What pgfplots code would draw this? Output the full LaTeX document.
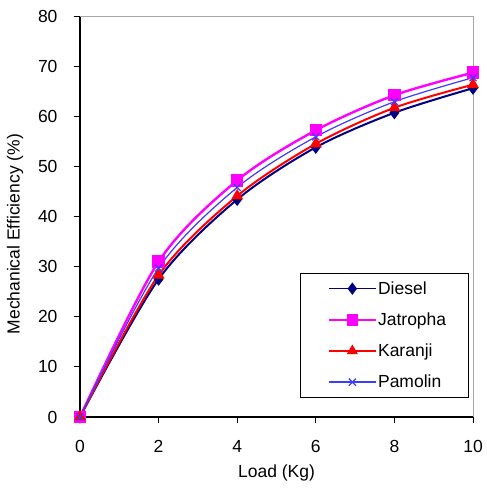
\documentclass[border=0pt]{standalone}
\usepackage{pgfplots}
\pgfplotsset{compat=1.18}
\usepackage{fontspec}
\setmainfont{Liberation Sans}
\definecolor{dieselc}{RGB}{0,0,128}
\definecolor{jatc}{RGB}{255,0,255}
\definecolor{karc}{RGB}{255,0,0}
\definecolor{pamc}{RGB}{60,60,255}
\begin{document}
\begin{tikzpicture}
\begin{axis}[
  scale only axis,
  width=393pt, height=401pt,
  xmin=0, xmax=10, ymin=0, ymax=80,
  xtick={0,2,...,10}, ytick={0,10,...,80},
  axis x line*=bottom, axis y line*=left,
  axis line style={black, line width=1.2pt},
  tick style={black, line width=1pt},
  tick align=outside, major tick length=6pt,
  /pgf/number format/assume math mode=true,
  tick label style={font=\fontsize{17.5}{19}\selectfont},
  xticklabel style={yshift=-14pt},
  yticklabel style={xshift=-13pt},
  xlabel={Load (Kg)}, ylabel={Mechanical Efficiency (\%)},
  label style={font=\fontsize{17.5}{19}\selectfont},
  xlabel style={at={(axis description cs:0.5,-0.14)}, anchor=center},
  ylabel style={at={(axis description cs:-0.165,0.456)}, anchor=center},
  legend style={at={(0.56,0.359)}, anchor=north west, draw=black, line width=1pt,
    font=\fontsize{17.5}{19}\selectfont, inner xsep=8pt, inner ysep=6pt, row sep=13pt,
    legend cell align=left, text width=80pt},
  legend image post style={line width=1.5pt},
  legend image code/.code={\path (0pt,0pt); \draw[mark repeat=2,mark phase=2] plot coordinates {(20pt,0pt) (43pt,0pt) (66pt,0pt)};},
  clip=false,
]
\path (rel axis cs:0,0) ++(-80pt,-71pt) coordinate (bl);
\path (rel axis cs:1,1) ++(13pt,16pt) coordinate (tr);
\path (bl) rectangle (tr);
\draw[gray!70, line width=0.8pt] (rel axis cs:0,1) -- (rel axis cs:1,1) -- (rel axis cs:1,0);
\addplot[smooth, color=dieselc, line width=2pt, mark=diamond*, mark size=5pt, mark options={solid, fill=dieselc}]
 coordinates {(0,0) (2,27.5) (4,43.4) (6,53.8) (8,60.7) (10,65.6)};
\addlegendentry{Diesel}
\addplot[smooth, color=jatc, line width=2.4pt, mark=square*, mark size=5pt, mark options={solid, fill=jatc}]
 coordinates {(0,0) (2,31) (4,47.2) (6,57.2) (8,64.2) (10,68.7)};
\addlegendentry{Jatropha}
\addplot[smooth, color=karc, line width=2pt, mark=triangle*, mark size=5pt, mark options={solid, fill=karc}]
 coordinates {(0,0) (2,28.3) (4,44.1) (6,54.5) (8,61.7) (10,66.3)};
\addlegendentry{Karanji}
\addplot[smooth, color=pamc, line width=1.2pt, mark=x, mark size=5pt, mark options={solid, line width=1.2pt}]
 coordinates {(0,0) (2,29.7) (4,45.8) (6,55.9) (8,62.9) (10,67.7)};
\addlegendentry{Pamolin}
\end{axis}
\end{tikzpicture}
\end{document}
